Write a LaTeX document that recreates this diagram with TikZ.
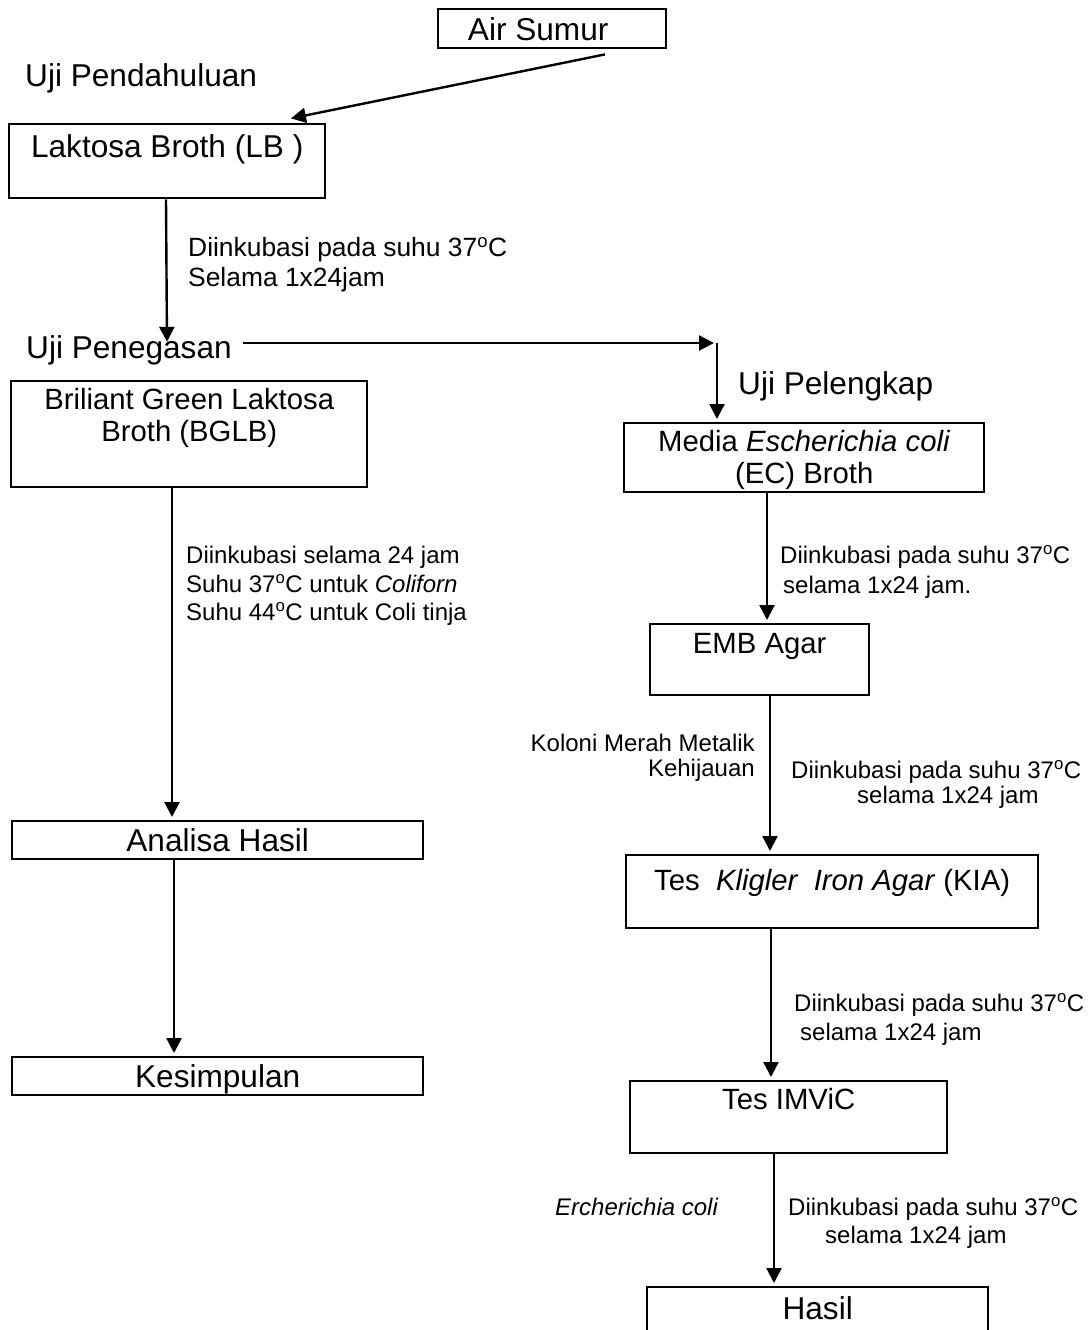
\documentclass[tikz,border=0pt]{standalone}
\usepackage{fontspec}
\setmainfont{Liberation Sans}
\usetikzlibrary{arrows.meta,calc}

\newcommand\bigfont{\fontsize{31.6pt}{36pt}\selectfont}
\newcommand\midfont{\fontsize{29.3pt}{32pt}\selectfont}
\newcommand\notefont{\fontsize{24pt}{29pt}\selectfont}
\newcommand\topnotefont{\fontsize{26.4pt}{30pt}\selectfont}
\newcommand\degC{\textsuperscript{o}C}

\tikzset{
  box/.style={draw, line width=2.4pt, inner sep=0pt, anchor=north west, align=center},
  arr/.style={line width=2.4pt, -{Triangle[length=15pt,width=15pt]}, shorten >=3pt},
  note/.style={inner sep=0pt, anchor=base west, align=left, font=\notefont},
  head/.style={inner sep=0pt, anchor=base west, font=\bigfont},
}

\begin{document}
\begin{tikzpicture}[x=1pt, y=-1pt]
\useasboundingbox (0,0) rectangle (1091,1330);

% Boxes
\node[box, font=\bigfont, minimum width=228pt, text height=31pt, text depth=8pt] (air) at (437,8) {Air Sumur\hspace*{28pt}};
\node[box, font=\bigfont, minimum width=316pt, text height=33pt, text depth=41pt] (lb) at (8,123) {Laktosa Broth (LB\ )};
\node[box, font=\midfont, minimum width=356pt, text height=60.5pt, text depth=45.5pt] (bglb) at (10,380) {Briliant Green Laktosa\\Broth (BGLB)};
\node[box, font=\bigfont, minimum width=411pt, text height=30pt, text depth=8pt] (analisa) at (11,820) {Analisa Hasil};
\node[box, font=\bigfont, minimum width=411pt, text height=30pt, text depth=8pt] (kesimpulan) at (11,1056) {Kesimpulan};
\node[box, font=\midfont, minimum width=360pt, text height=60.5pt, text depth=8.5pt] (ec) at (623,422) {Media \textit{Escherichia coli}\\(EC) Broth};
\node[box, font=\midfont, minimum width=219pt, text height=29.5pt, text depth=41.5pt] (emb) at (649,623) {EMB Agar};
\node[box, font=\midfont, minimum width=412pt, text height=35.5pt, text depth=37.5pt] (kia) at (625,854) {Tes\ \ \textit{Kligler\ \ Iron Agar} (KIA)};
\node[box, font=\midfont, minimum width=317pt, text height=28.5pt, text depth=43.5pt] (imvic) at (629,1080) {Tes IMViC};
\node[box, font=\bigfont, minimum width=341pt, text height=32pt, text depth=48pt] (hasil) at (646,1286) {Hasil};

% Stage titles
\node[head] (pendahuluan) at (25,86) {Uji Pendahuluan};
\node[head] (penegasan) at (26,358) {Uji Penegasan};
\node[head] (pelengkap) at (738,394) {Uji Pelengkap};

% Notes (anchored at the last line)
\node[note, font=\topnotefont] (inkLB) at (188,286.5) {Diinkubasi pada suhu 37\degC\\Selama 1x24jam};
\node[note, font=\fontsize{24pt}{28.5pt}\selectfont] (inkBGLB) at (186,620.6) {Diinkubasi selama 24 jam\\Suhu 37\degC{} untuk \textit{Coliforn}\\Suhu 44\degC{} untuk Coli tinja};
\node[note, font=\fontsize{24pt}{30pt}\selectfont] (inkEC) at (780,593.6) {Diinkubasi pada suhu 37\degC\\\hspace*{3pt}selama 1x24 jam.};
\node[note, anchor=base east, align=right, font=\fontsize{24pt}{25pt}\selectfont] (koloni) at (755,776.6) {Koloni Merah Metalik\\Kehijauan};
\node[note, font=\fontsize{24pt}{25pt}\selectfont] (inkEMB) at (791,803.6) {Diinkubasi pada suhu 37\degC\\\hspace*{66pt}selama 1x24 jam};
\node[note] (inkKIA) at (794,1040.6) {Diinkubasi pada suhu 37\degC\\\hspace*{6pt}selama 1x24 jam};
\node[note] (ecoli) at (555,1215.6) {\textit{Ercherichia coli}};
\node[note, font=\fontsize{24pt}{28pt}\selectfont] (inkIMV) at (788,1243.6) {Diinkubasi pada suhu 37\degC\\\hspace*{37pt}selama 1x24 jam};

% Arrows
\draw[arr] ($(air.south -| 605,0)+(0,5)$) -- ($(lb.north -| 288,0)+(0,-4)$);
\draw[arr] (lb.south -| 166,0) -- ($(penegasan.center -| 167,0)+(0,-5)$);
\coordinate (turn) at (717,343);
\draw[arr, shorten <=11pt] (penegasan.east |- turn) -- (turn);
\draw[arr] (turn) -- (ec.north -| turn);
\draw[arr] (bglb.south -| 172,0) -- (analisa.north -| 172,0);
\draw[arr] (analisa.south -| 174,0) -- (kesimpulan.north -| 174,0);
\draw[arr] (ec.south -| 767,0) -- (emb.north -| 767,0);
\draw[arr] (emb.south -| 770,0) -- (kia.north -| 770,0);
\draw[arr] (kia.south -| 771,0) -- (imvic.north -| 771,0);
\draw[arr] (imvic.south -| 774,0) -- (hasil.north -| 774,0);
\end{tikzpicture}
\end{document}
